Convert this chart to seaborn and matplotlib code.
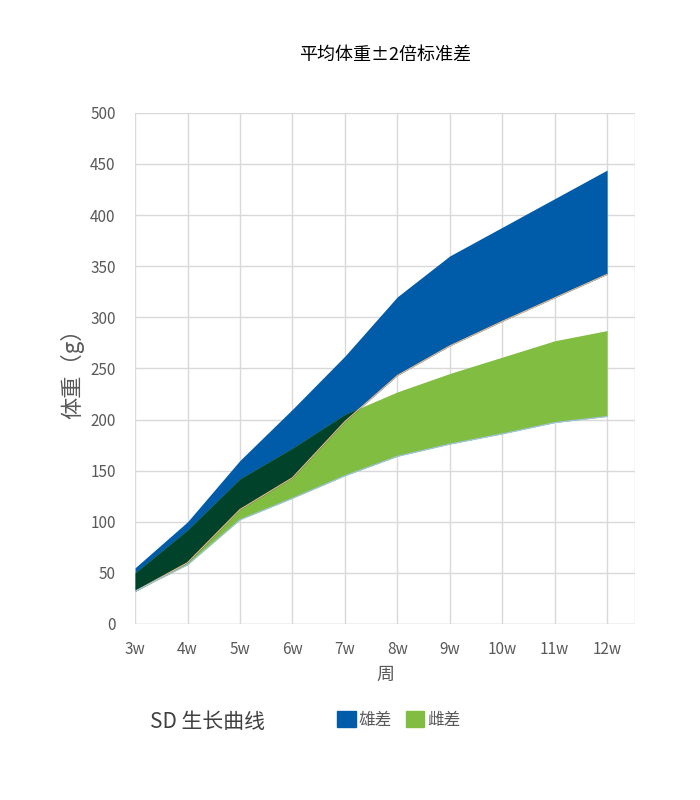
import numpy as np
import matplotlib
matplotlib.use("Agg")
import matplotlib.pyplot as plt
import seaborn as sns
from matplotlib.patches import Patch

weeks = ["3w", "4w", "5w", "6w", "7w", "8w", "9w", "10w", "11w", "12w"]
male_upper = [55, 100, 160, 210, 262, 320, 360, 388, 416, 444]
male_lower = [32, 60, 112, 143, 198, 243, 272, 296, 319, 342]
female_upper = [50, 92, 142, 172, 205, 227, 245, 261, 277, 287]
female_lower = [32, 58, 102, 123, 145, 164, 176, 186, 197, 203]

sns.set_style("white")
plt.rcParams['font.family'] = ['Noto Sans CJK SC', 'DejaVu Sans']

fig = plt.figure(figsize=(7, 8), dpi=100)
ax = fig.add_axes([0.193, 0.22, 0.714, 0.639])
x = np.arange(len(weeks))
mu, ml = np.array(male_upper), np.array(male_lower)
fu, fl = np.array(female_upper), np.array(female_lower)

ax.fill_between(x, ml, mu, color="#005ba9", lw=0)
ax.fill_between(x, fl, fu, color="#80bd40", lw=0)
lo = np.maximum(ml, fl)
hi = np.minimum(mu, fu)
ax.fill_between(x, lo, hi, where=hi > lo, interpolate=True, color="#00432a", lw=0)
sns.lineplot(x=x, y=ml, ax=ax, color="#f5c08c", lw=0.8)
sns.lineplot(x=x, y=fl, ax=ax, color="#9fc4e8", lw=0.8)

ax.set_xlim(0, 9.53)
ax.set_ylim(0, 500)
ax.set_xticks(x)
ax.set_xticklabels(weeks)
ax.set_yticks(range(0, 501, 50))
ax.grid(True, color="#d9d9d9", lw=1)
ax.set_axisbelow(True)
for s in ax.spines.values():
    s.set_visible(False)
ax.axvline(9.53, color="#d9d9d9", lw=1)
ax.axhline(0, color="#d9d9d9", lw=1)
ax.tick_params(colors="#595959", labelsize=11, length=0)
ax.tick_params(axis="x", pad=12)
ax.tick_params(axis="y", pad=14)
ax.set_xlabel("周", fontsize=13, color="#595959", labelpad=6)
ax.set_ylabel("体重（g）", fontsize=16, color="#595959")
ax.set_title("平均体重±2倍标准差", fontsize=13, pad=38, color="#000000")

fig.text(0.215, 0.09, "SD 生长曲线", fontsize=15, color="#404040")
fig.legend(handles=[Patch(color="#005ba9", label="雄差"), Patch(color="#80bd40", label="雌差")],
           loc="center", bbox_to_anchor=(0.57, 0.1), ncol=2, frameon=False,
           fontsize=12, handlelength=1.1, handleheight=1.1, columnspacing=0.8,
           handletextpad=0.2, labelcolor="#595959")
fig.savefig("out.png", dpi=100)
